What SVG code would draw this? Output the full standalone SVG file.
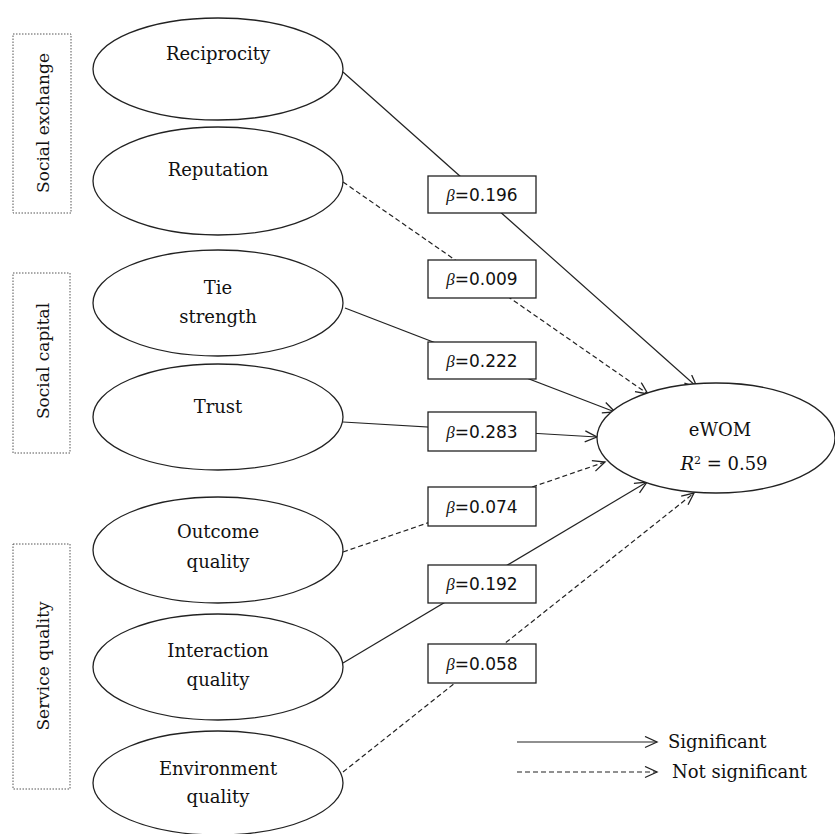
<svg xmlns="http://www.w3.org/2000/svg" width="835" height="834" viewBox="0 0 835 834">
<style>
.ell{fill:#fff;stroke:#222;stroke-width:1.3}
.lbl{font-family:"DejaVu Serif","Liberation Serif",serif;font-size:18px;fill:#111;text-anchor:middle}
.grp{fill:#fff;stroke:#555;stroke-width:1;stroke-dasharray:1.5 1.5}
.gtxt{font-family:"DejaVu Serif","Liberation Serif",serif;font-size:17px;fill:#111;text-anchor:middle}
.leg{font-family:"DejaVu Serif","Liberation Serif",serif;font-size:18px;fill:#111}
.box{fill:#fff;stroke:#222;stroke-width:1.3}
.btxt{font-family:"DejaVu Sans","Liberation Sans",sans-serif;font-size:17px;fill:#111;text-anchor:middle}
.sig{stroke:#222;stroke-width:1.2;fill:none;marker-end:url(#arr)}
.ns{stroke:#222;stroke-width:1.2;fill:none;stroke-dasharray:5 3;marker-end:url(#arr)}
</style>
<defs>
<marker id="arr" markerUnits="userSpaceOnUse" markerWidth="16" markerHeight="14" refX="13" refY="6" orient="auto">
<path d="M1,0.5 L13,6 L1,11.5" fill="none" stroke="#222" stroke-width="1.3"/>
</marker>
</defs>
<rect width="835" height="834" fill="#fff"/>

<g id="groups">
<g id="g-social-exchange"><rect class="grp" x="13" y="34" width="58" height="179"/><text class="gtxt" transform="translate(49,123) rotate(-90)">Social exchange</text></g>
<g id="g-social-capital"><rect class="grp" x="13" y="273" width="57" height="180"/><text class="gtxt" transform="translate(49,361) rotate(-90)">Social capital</text></g>
<g id="g-service-quality"><rect class="grp" x="13" y="544" width="57" height="245"/><text class="gtxt" transform="translate(49,666) rotate(-90)">Service quality</text></g>
</g>

<g id="connectors">
<path class="sig" d="M343,72 L697,387"/>
<path class="ns" d="M343,182 L648,394"/>
<path class="sig" d="M345,308 L615,412"/>
<path class="sig" d="M343,422 L597,437"/>
<path class="ns" d="M343,552 L605,462"/>
<path class="sig" d="M343,663 L647,482"/>
<path class="ns" d="M343,772 L694,493"/>
</g>

<g id="reciprocity"><ellipse class="ell" cx="218" cy="69" rx="125" ry="51"/><text class="lbl" x="218" y="60">Reciprocity</text></g>
<g id="reputation"><ellipse class="ell" cx="218" cy="181" rx="125" ry="54"/><text class="lbl" x="218" y="176">Reputation</text></g>
<g id="tie-strength"><ellipse class="ell" cx="218" cy="303" rx="125" ry="53"/><text class="lbl" x="218" y="294">Tie</text><text class="lbl" x="218" y="323">strength</text></g>
<g id="trust"><ellipse class="ell" cx="218" cy="417" rx="125" ry="53"/><text class="lbl" x="218" y="413">Trust</text></g>
<g id="outcome-quality"><ellipse class="ell" cx="218" cy="550" rx="125" ry="53"/><text class="lbl" x="218" y="538">Outcome</text><text class="lbl" x="218" y="568">quality</text></g>
<g id="interaction-quality"><ellipse class="ell" cx="218" cy="667" rx="125" ry="53"/><text class="lbl" x="218" y="657">Interaction</text><text class="lbl" x="218" y="686">quality</text></g>
<g id="environment-quality"><ellipse class="ell" cx="218" cy="783" rx="125" ry="52"/><text class="lbl" x="218" y="775">Environment</text><text class="lbl" x="218" y="803">quality</text></g>

<g id="ewom"><ellipse class="ell" cx="716" cy="438" rx="119" ry="55"/><text class="lbl" x="720" y="436">eWOM</text><text class="lbl" x="724" y="470"><tspan font-style="italic">R</tspan><tspan font-size="11" dy="-6">2</tspan><tspan dy="6"> = 0.59</tspan></text></g>

<g id="betas">
<g id="b1"><rect class="box" x="428" y="176" width="108" height="37"/><text class="btxt" x="482" y="201"><tspan font-style="italic" font-family="Liberation Serif,serif">β</tspan>=0.196</text></g>
<g id="b2"><rect class="box" x="428" y="260" width="108" height="38"/><text class="btxt" x="482" y="285"><tspan font-style="italic" font-family="Liberation Serif,serif">β</tspan>=0.009</text></g>
<g id="b3"><rect class="box" x="428" y="342" width="108" height="37"/><text class="btxt" x="482" y="367"><tspan font-style="italic" font-family="Liberation Serif,serif">β</tspan>=0.222</text></g>
<g id="b4"><rect class="box" x="428" y="412" width="108" height="39"/><text class="btxt" x="482" y="438"><tspan font-style="italic" font-family="Liberation Serif,serif">β</tspan>=0.283</text></g>
<g id="b5"><rect class="box" x="428" y="487" width="108" height="39"/><text class="btxt" x="482" y="513"><tspan font-style="italic" font-family="Liberation Serif,serif">β</tspan>=0.074</text></g>
<g id="b6"><rect class="box" x="428" y="565" width="108" height="38"/><text class="btxt" x="482" y="590"><tspan font-style="italic" font-family="Liberation Serif,serif">β</tspan>=0.192</text></g>
<g id="b7"><rect class="box" x="428" y="644" width="108" height="39"/><text class="btxt" x="482" y="670"><tspan font-style="italic" font-family="Liberation Serif,serif">β</tspan>=0.058</text></g>
</g>

<g id="legend">
<path class="sig" d="M517,742 L657,742"/>
<text class="leg" x="668" y="748">Significant</text>
<path class="ns" d="M517,772 L657,772"/>
<text class="leg" x="672" y="778">Not significant</text>
</g>
</svg>
